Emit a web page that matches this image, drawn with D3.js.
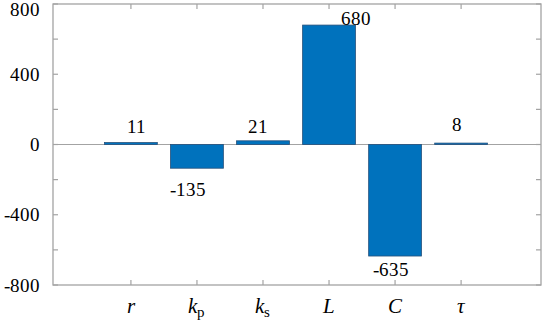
<!DOCTYPE html>
<html>
<head>
<meta charset="utf-8">
<script src="https://cdn.jsdelivr.net/npm/d3@7"></script>
<style>
  @font-face {
    font-family: "ChartSerif";
    src: local("Liberation Serif"), local("LiberationSerif"), local("Liberation Serif Regular"), local("LiberationSerif-Regular");
    font-style: normal;
  }
  @font-face {
    font-family: "ChartSerif";
    src: local("Liberation Serif Italic"), local("LiberationSerif-Italic");
    font-style: italic;
  }
</style>
</head>
<body style="margin:0; background:#fff">
<div id="chart"></div>
<script>
// data
const params = [
  {base: "r", sub: ""},
  {base: "k", sub: "p"},
  {base: "k", sub: "s"},
  {base: "L", sub: ""},
  {base: "C", sub: ""},
  {base: "\u03c4", sub: ""}
];
const values = [11, -135, 21, 680, -635, 8];
const yTicks = [-800, -600, -400, -200, 0, 200, 400, 600, 800];
const yLabels = [-800, -400, 0, 400, 800];

const W = 543, H = 322;
const plot = {left: 53, right: 541, top: 4, bottom: 285};
const serif = "ChartSerif, 'Liberation Serif', 'Times New Roman', serif";

const svg = d3.select("#chart")
  .append("svg")
  .attr("width", W)
  .attr("height", H)
  .style("display", "block")
  .style("font-family", serif, "important");

const xScale = d3.scaleLinear()
  .domain([-0.18, 7.21])
  .range([plot.left, plot.right]);

const yScale = d3.scaleLinear()
  .domain([-800, 800])
  .range([plot.bottom, plot.top]);

const step = xScale(2) - xScale(1);
const barW = step * 0.8;
const axisColor = "#a3a3a3";

// zero line
svg.append("line")
  .attr("x1", plot.left).attr("x2", plot.right)
  .attr("y1", yScale(0)).attr("y2", yScale(0))
  .attr("stroke", axisColor)
  .attr("stroke-width", 1.2);

// bars
svg.append("g")
  .selectAll("rect")
  .data(values)
  .enter()
  .append("rect")
  .attr("x", (d, i) => xScale(i + 1) - barW / 2)
  .attr("y", d => yScale(Math.max(d, 0)))
  .attr("width", barW)
  .attr("height", d => Math.abs(yScale(d) - yScale(0)))
  .attr("fill", "#0072BD")
  .attr("stroke", "#26507a")
  .attr("stroke-width", 0.8);

// box frame
svg.append("rect")
  .attr("x", plot.left).attr("y", plot.top)
  .attr("width", plot.right - plot.left)
  .attr("height", plot.bottom - plot.top)
  .attr("fill", "none")
  .attr("stroke", axisColor)
  .attr("stroke-width", 1.3);

// y ticks, inward on left and right
const tl = 5;
yTicks.forEach(t => {
  const y = yScale(t);
  svg.append("line")
    .attr("x1", plot.left).attr("x2", plot.left + tl)
    .attr("y1", y).attr("y2", y)
    .attr("stroke", axisColor).attr("stroke-width", 1.2);
  svg.append("line")
    .attr("x1", plot.right - tl).attr("x2", plot.right)
    .attr("y1", y).attr("y2", y)
    .attr("stroke", axisColor).attr("stroke-width", 1.2);
});

// x ticks, inward on bottom and top
params.forEach((p, i) => {
  const x = xScale(i + 1);
  svg.append("line")
    .attr("x1", x).attr("x2", x)
    .attr("y1", plot.bottom).attr("y2", plot.bottom - tl)
    .attr("stroke", axisColor).attr("stroke-width", 1.2);
  svg.append("line")
    .attr("x1", x).attr("x2", x)
    .attr("y1", plot.top).attr("y2", plot.top + tl)
    .attr("stroke", axisColor).attr("stroke-width", 1.2);
});

// value labels (hand placed in the original, so small nudges)
const nudge = [[6, -10], [-9, 28], [-5, -8], [27, 0], [-4, 20], [-4, -12]];
svg.append("g")
  .selectAll("text")
  .data(values)
  .enter()
  .append("text")
  .attr("font-size", 19)
  .attr("x", (d, i) => xScale(i + 1) + nudge[i][0])
  .attr("y", (d, i) => yScale(d) + nudge[i][1])
  .attr("text-anchor", "middle")
  .text(d => d);

svg.append("g")
  .selectAll("text")
  .data(yLabels)
  .enter()
  .append("text")
  .attr("font-size", 19)
  .attr("x", plot.left - 13)
  .attr("y", d => Math.max(yScale(d), 9))
  .attr("dy", "0.35em")
  .attr("text-anchor", "end")
  .text(d => d);

const xl = svg.append("g")
  .selectAll("text")
  .data(params)
  .enter()
  .append("text")
  .attr("font-size", 21)
  .attr("x", (d, i) => xScale(i + 1))
  .attr("y", 313)
  .attr("text-anchor", "middle");

xl.append("tspan")
  .attr("font-style", "italic")
  .text(d => d.base);

xl.filter(d => d.sub)
  .append("tspan")
  .attr("font-size", 15)
  .attr("dy", 4)
  .text(d => d.sub);

// keep the serif face on every text, even if something restyles it later
function forceSerif() {
  svg.selectAll("text, tspan").each(function() {
    if (this.style.getPropertyValue("font-family") !== serif ||
        this.style.getPropertyPriority("font-family") !== "important") {
      this.style.setProperty("font-family", serif, "important");
    }
  });
}
forceSerif();
new MutationObserver(forceSerif)
  .observe(svg.node(), {attributes: true, subtree: true, attributeFilter: ["style", "font-family", "class"]});
setTimeout(forceSerif, 50);
</script>
</body>
</html>
